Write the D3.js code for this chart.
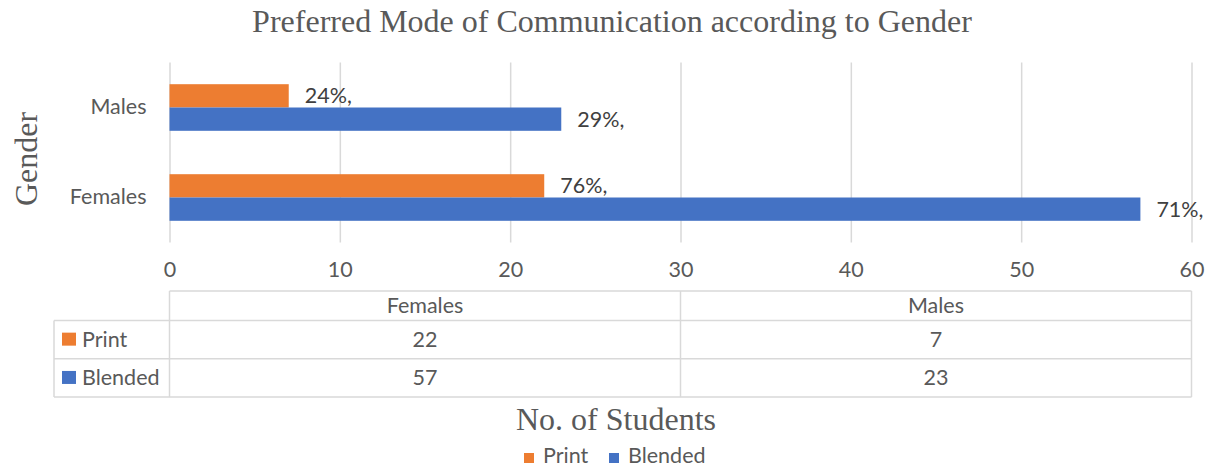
<!DOCTYPE html>
<html>
<head>
<meta charset="utf-8">
<script src="https://cdn.jsdelivr.net/npm/d3@7"></script>
<style>
  body { margin: 0; background: #fff; }
  text { fill: #595959; }
</style>
</head>
<body>
<div id="chart"></div>
<script>
var width = 1208;
var height = 468;

// data
var categories = ["Males", "Females"];          // order on the y axis, top to bottom
var tableCategories = ["Females", "Males"];     // order in the data table
var seriesNames = ["Print", "Blended"];
var seriesColors = ["#ED7D31", "#4472C4"];
var printValues = {Females: 22, Males: 7};
var blendedValues = {Females: 57, Males: 23};
var printLabels = {Females: "76%,", Males: "24%,"};
var blendedLabels = {Females: "71%,", Males: "29%,"};
var xTicks = [0, 10, 20, 30, 40, 50, 60];

var seriesValues = [printValues, blendedValues];
var seriesLabels = [printLabels, blendedLabels];

var sansFont = "Lato, 'Open Sans', sans-serif";
var sansSize = 21.5;
var serifFont = "'Liberation Serif', 'Times New Roman', serif";

var plotTop = 62.5, plotBottom = 242.5;
var gridColor = "#d9d9d9";

var svg = d3.select("#chart")
    .append("svg")
    .attr("width", width)
    .attr("height", height);

svg.append("rect").attr("width", width).attr("height", height).attr("fill", "#fff");

var x = d3.scaleLinear()
    .domain([0, 60])
    .range([169.5, 1191.5]);

var y = d3.scaleBand()
    .domain(categories)
    .range([plotTop, plotBottom]);

var barH = 23.3;
var ySeries = d3.scaleBand()
    .domain(seriesNames)
    .range([-barH, barH]);

// gridlines
var grid = svg.append("g")
    .attr("transform", "translate(0," + plotBottom + ")")
    .call(d3.axisBottom(x).tickValues(xTicks).tickSize(-(plotBottom - plotTop)).tickFormat(""));
grid.select(".domain").remove();
grid.selectAll(".tick line").attr("stroke", gridColor).attr("stroke-width", 1.5);

// x tick labels
var xAxis = svg.append("g")
    .attr("transform", "translate(0,262)")
    .call(d3.axisBottom(x).tickValues(xTicks).tickSize(0).tickPadding(0));
xAxis.select(".domain").remove();
xAxis.selectAll("text")
    .attr("font-family", sansFont)
    .attr("font-size", sansSize)
    .attr("fill", "#595959");

// y axis labels
var yAxis = svg.append("g")
    .attr("transform", "translate(" + x(0) + ",0)")
    .call(d3.axisLeft(y).tickSize(0).tickPadding(23));
yAxis.select(".domain").remove();
yAxis.selectAll("text")
    .attr("font-family", sansFont)
    .attr("font-size", sansSize)
    .attr("fill", "#595959");

// bars
seriesNames.forEach(function(s, i) {
    var g = svg.append("g");
    g.selectAll("rect")
        .data(categories)
        .enter()
        .append("rect")
        .attr("x", x(0))
        .attr("y", function(d) { return y(d) + y.bandwidth() / 2 + ySeries(s); })
        .attr("width", function(d) { return x(seriesValues[i][d]) - x(0); })
        .attr("height", ySeries.bandwidth())
        .attr("fill", seriesColors[i]);

    g.selectAll("text")
        .data(categories)
        .enter()
        .append("text")
        .attr("x", function(d) { return x(seriesValues[i][d]) + 16; })
        .attr("y", function(d) { return y(d) + y.bandwidth() / 2 + ySeries(s) + ySeries.bandwidth() / 2; })
        .attr("dy", "0.35em")
        .attr("font-family", sansFont)
        .attr("font-size", sansSize)
        .style("fill", "#404040")
        .text(function(d) { return seriesLabels[i][d]; });
});

// data table
var tableTop = 291, headerBottom = 320.5, rowH = 38.3;
var tableLeft = 54;
var col = d3.scaleBand()
    .domain(tableCategories)
    .range([x(0), x(60)]);

var table = svg.append("g");
function hline(x1, x2, yy) {
    table.append("line").attr("x1", x1).attr("x2", x2).attr("y1", yy).attr("y2", yy)
        .attr("stroke", gridColor).attr("stroke-width", 1.5);
}
function vline(xx, y1, y2) {
    table.append("line").attr("x1", xx).attr("x2", xx).attr("y1", y1).attr("y2", y2)
        .attr("stroke", gridColor).attr("stroke-width", 1.5);
}
var tableBottom = headerBottom + rowH * seriesNames.length;
hline(x(0), x(60), tableTop);
hline(tableLeft, x(60), headerBottom);
seriesNames.forEach(function(s, i) {
    hline(tableLeft, x(60), headerBottom + rowH * (i + 1));
});
vline(tableLeft, headerBottom, tableBottom);
vline(x(0), tableTop, tableBottom);
tableCategories.forEach(function(c) {
    vline(col(c) + col.bandwidth(), tableTop, tableBottom);
});

table.selectAll("text.head")
    .data(tableCategories)
    .enter()
    .append("text")
    .attr("class", "head")
    .attr("x", function(d) { return col(d) + col.bandwidth() / 2; })
    .attr("y", (tableTop + headerBottom) / 2)
    .attr("dy", "0.35em")
    .attr("text-anchor", "middle")
    .attr("font-family", sansFont)
    .attr("font-size", sansSize)
    .text(function(d) { return d; });

seriesNames.forEach(function(s, i) {
    var rowMid = headerBottom + rowH * i + rowH / 2;
    table.append("rect")
        .attr("x", 62).attr("y", rowMid - 7)
        .attr("width", 14).attr("height", 13)
        .attr("fill", seriesColors[i]);
    table.append("text")
        .attr("x", 82).attr("y", rowMid)
        .attr("dy", "0.35em")
        .attr("font-family", sansFont)
        .attr("font-size", sansSize)
        .text(s);
    table.selectAll("text.v" + i)
        .data(tableCategories)
        .enter()
        .append("text")
        .attr("class", "v" + i)
        .attr("x", function(d) { return col(d) + col.bandwidth() / 2; })
        .attr("y", rowMid)
        .attr("dy", "0.35em")
        .attr("text-anchor", "middle")
        .attr("font-family", sansFont)
        .attr("font-size", sansSize)
        .text(function(d) { return seriesValues[i][d]; });
});

// titles
svg.append("text")
    .attr("x", 612).attr("y", 32)
    .attr("text-anchor", "middle")
    .attr("font-family", serifFont)
    .attr("font-size", 32)
    .text("Preferred Mode of Communication according to Gender");

svg.append("text")
    .attr("x", 616).attr("y", 430)
    .attr("text-anchor", "middle")
    .attr("font-family", serifFont)
    .attr("font-size", 32)
    .text("No. of Students");

svg.append("text")
    .attr("transform", "translate(37,159) rotate(-90)")
    .attr("text-anchor", "middle")
    .attr("font-family", serifFont)
    .attr("font-size", 32)
    .text("Gender");

// legend
var legend = svg.append("g").attr("transform", "translate(0,463)");
var legendX = [524, 609];
seriesNames.forEach(function(s, i) {
    legend.append("rect")
        .attr("x", legendX[i]).attr("y", -10)
        .attr("width", 10).attr("height", 10)
        .attr("fill", seriesColors[i]);
    legend.append("text")
        .attr("x", legendX[i] + 19).attr("y", 0)
        .attr("font-family", sansFont)
        .attr("font-size", sansSize)
        .text(s);
});
</script>
</body>
</html>
